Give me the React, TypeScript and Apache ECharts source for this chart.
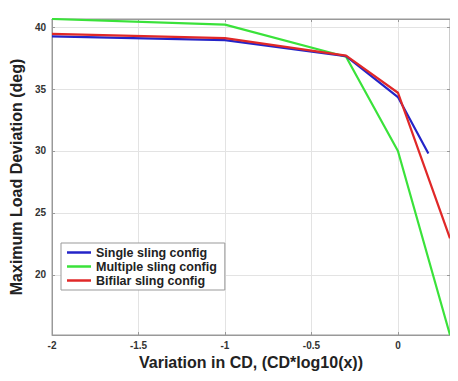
import React, { useEffect, useRef } from "react";
import * as echarts from "echarts";

const singleX = [-2, -1, -0.3, 0, 0.176];
const singleY = [39.25, 38.95, 37.65, 34.35, 29.8];
const multipleX = [-2, -1, -0.3, 0, 0.301];
const multipleY = [40.65, 40.2, 37.6, 30.0, 15.15];
const bifilarX = [-2, -1, -0.3, 0, 0.301];
const bifilarY = [39.45, 39.1, 37.7, 34.7, 22.95];
const seriesNames = ["Single sling config", "Multiple sling config", "Bifilar sling config"];
const xTicks = [-2, -1.5, -1, -0.5, 0];
const yTicks = [20, 25, 30, 35, 40];

const zip = (xs: number[], ys: number[]) => xs.map((x, i) => [x, ys[i]]);

export default function App() {
  const ref = useRef<HTMLDivElement>(null);
  useEffect(() => {
    if (!ref.current) return;
    const chart = echarts.init(ref.current, null, { renderer: "svg" });
    const font = "'Liberation Sans', Arial, sans-serif";
    const near = (v: number, arr: number[]) => arr.some((t) => Math.abs(t - v) < 1e-6);
    const mirrorTick = { show: true, inside: true, length: 3, lineStyle: { color: "#999" } };
    chart.setOption({
      animation: false,
      backgroundColor: "#ffffff",
      grid: { left: 48, right: 8, top: 19, bottom: 46, show: true, borderColor: "#999", borderWidth: 1 },
      legend: {
        orient: "vertical",
        left: 61,
        top: 243,
        padding: [3, 8, 3, 6],
        itemGap: 1,
        itemWidth: 24,
        itemHeight: 2.5,
        icon: "rect",
        borderColor: "#999",
        borderWidth: 1,
        backgroundColor: "#fff",
        textStyle: { fontFamily: font, fontWeight: "bold", fontSize: 12.5, lineHeight: 13, color: "#222" },
        data: seriesNames,
      },
      xAxis: [
        {
          type: "value",
          min: -2,
          max: 0.301,
          splitNumber: 5,
          name: "Variation in CD, (CD*log10(x))",
          nameLocation: "middle",
          nameGap: 19,
          nameTextStyle: { fontFamily: font, fontWeight: "bold", fontSize: 16, color: "#222" },
          axisLine: { show: true, onZero: false, lineStyle: { color: "#999" } },
          axisTick: { show: true, inside: true, length: 3, lineStyle: { color: "#999" } },
          axisLabel: {
            fontFamily: font,
            fontWeight: "bold",
            fontSize: 10,
            color: "#333",
            margin: 5,
            showMaxLabel: false,
            formatter: (v: number) => (near(v, xTicks) ? String(Math.round(v * 10) / 10) : ""),
          },
          splitLine: { show: true, lineStyle: { color: "#e3e3e3" } },
        },
        {
          type: "value",
          position: "top",
          min: -2,
          max: 0.301,
          splitNumber: 5,
          axisLine: { show: true, onZero: false, lineStyle: { color: "#999" } },
          axisTick: mirrorTick,
          axisLabel: { show: false },
          splitLine: { show: false },
        },
      ],
      yAxis: [
        {
          type: "value",
          min: 15.15,
          max: 40.65,
          splitNumber: 5,
          name: "Maximum Load Deviation (deg)",
          nameLocation: "middle",
          nameGap: 22,
          nameTextStyle: { fontFamily: font, fontWeight: "bold", fontSize: 16, color: "#222" },
          axisLine: { show: true, onZero: false, lineStyle: { color: "#999" } },
          axisTick: { show: true, inside: true, length: 3, lineStyle: { color: "#999" } },
          axisLabel: {
            fontFamily: font,
            fontWeight: "bold",
            fontSize: 10,
            color: "#333",
            margin: 6,
            showMinLabel: false,
            showMaxLabel: false,
            formatter: (v: number) => (near(v, yTicks) ? String(v) : ""),
          },
          splitLine: { show: true, lineStyle: { color: "#e3e3e3" } },
        },
        {
          type: "value",
          position: "right",
          min: 15.15,
          max: 40.65,
          splitNumber: 5,
          axisLine: { show: true, onZero: false, lineStyle: { color: "#999" } },
          axisTick: mirrorTick,
          axisLabel: { show: false },
          splitLine: { show: false },
        },
      ],
      series: [
        {
          name: seriesNames[0],
          type: "line",
          data: zip(singleX, singleY),
          symbol: "none",
          lineStyle: { color: "#2424c8", width: 2.2 },
          itemStyle: { color: "#2424c8" },
          z: 3,
        },
        {
          name: seriesNames[1],
          type: "line",
          data: zip(multipleX, multipleY),
          symbol: "none",
          lineStyle: { color: "#3ae23a", width: 2.2 },
          itemStyle: { color: "#3ae23a" },
          z: 2,
        },
        {
          name: seriesNames[2],
          type: "line",
          data: zip(bifilarX, bifilarY),
          symbol: "none",
          lineStyle: { color: "#e02828", width: 2.2 },
          itemStyle: { color: "#e02828" },
          z: 4,
        },
      ],
    });
    return () => chart.dispose();
  }, []);
  return (
    <div style={{ margin: -8 }}>
      <div ref={ref} style={{ width: 458, height: 381 }} />
    </div>
  );
}
